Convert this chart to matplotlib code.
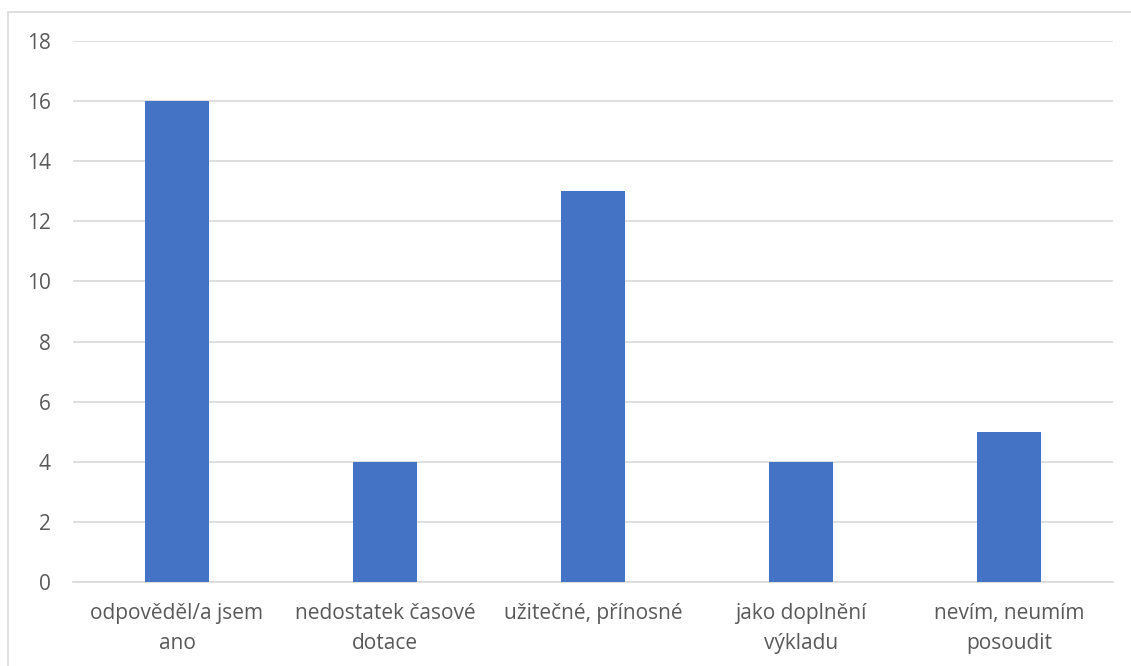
import matplotlib.pyplot as plt
from matplotlib.patches import Rectangle

plt.rcParams['font.family'] = ['Open Sans', 'DejaVu Sans']

categories = ["odpověděl/a jsem\nano", "nedostatek časové\ndotace", "užitečné, přínosné",
              "jako doplnění\nvýkladu", "nevím, neumím\nposoudit"]
counts = [16, 4, 13, 4, 5]
yticks = list(range(0, 19, 2))

text_color = "#595959"
grid_color = "#D9D9D9"
bar_color = "#4472C4"

fig = plt.figure(figsize=(11.31, 6.66), dpi=100)
ax = fig.add_axes([73 / 1131, 1 - 582 / 666, 1040 / 1131, 541 / 666])

x = range(len(categories))
ax.bar(x, counts, width=0.31, color=bar_color, zorder=3)

ax.set_xlim(-0.5, len(categories) - 0.5)
ax.set_ylim(0, 18)
ax.set_yticks(yticks)
ax.set_xticks(list(x))
ax.set_xticklabels(categories, fontsize=15, color=text_color, linespacing=1.6)
ax.tick_params(axis='y', labelsize=15, labelcolor=text_color, length=0, pad=16)
ax.tick_params(axis='x', length=0, pad=15)
ax.grid(axis='y', color=grid_color, linewidth=1.2, zorder=0)
for s in ['top', 'right', 'left']:
    ax.spines[s].set_visible(False)
ax.spines['bottom'].set_color(grid_color)
ax.spines['bottom'].set_linewidth(1.2)

# chart outer border
fig.patches.append(Rectangle((8 / 1131, -0.1), 1.2, 1 - 12 / 666 + 0.1, transform=fig.transFigure,
                             fill=False, edgecolor=grid_color, linewidth=1.2))

fig.savefig("out.png", dpi=100)
